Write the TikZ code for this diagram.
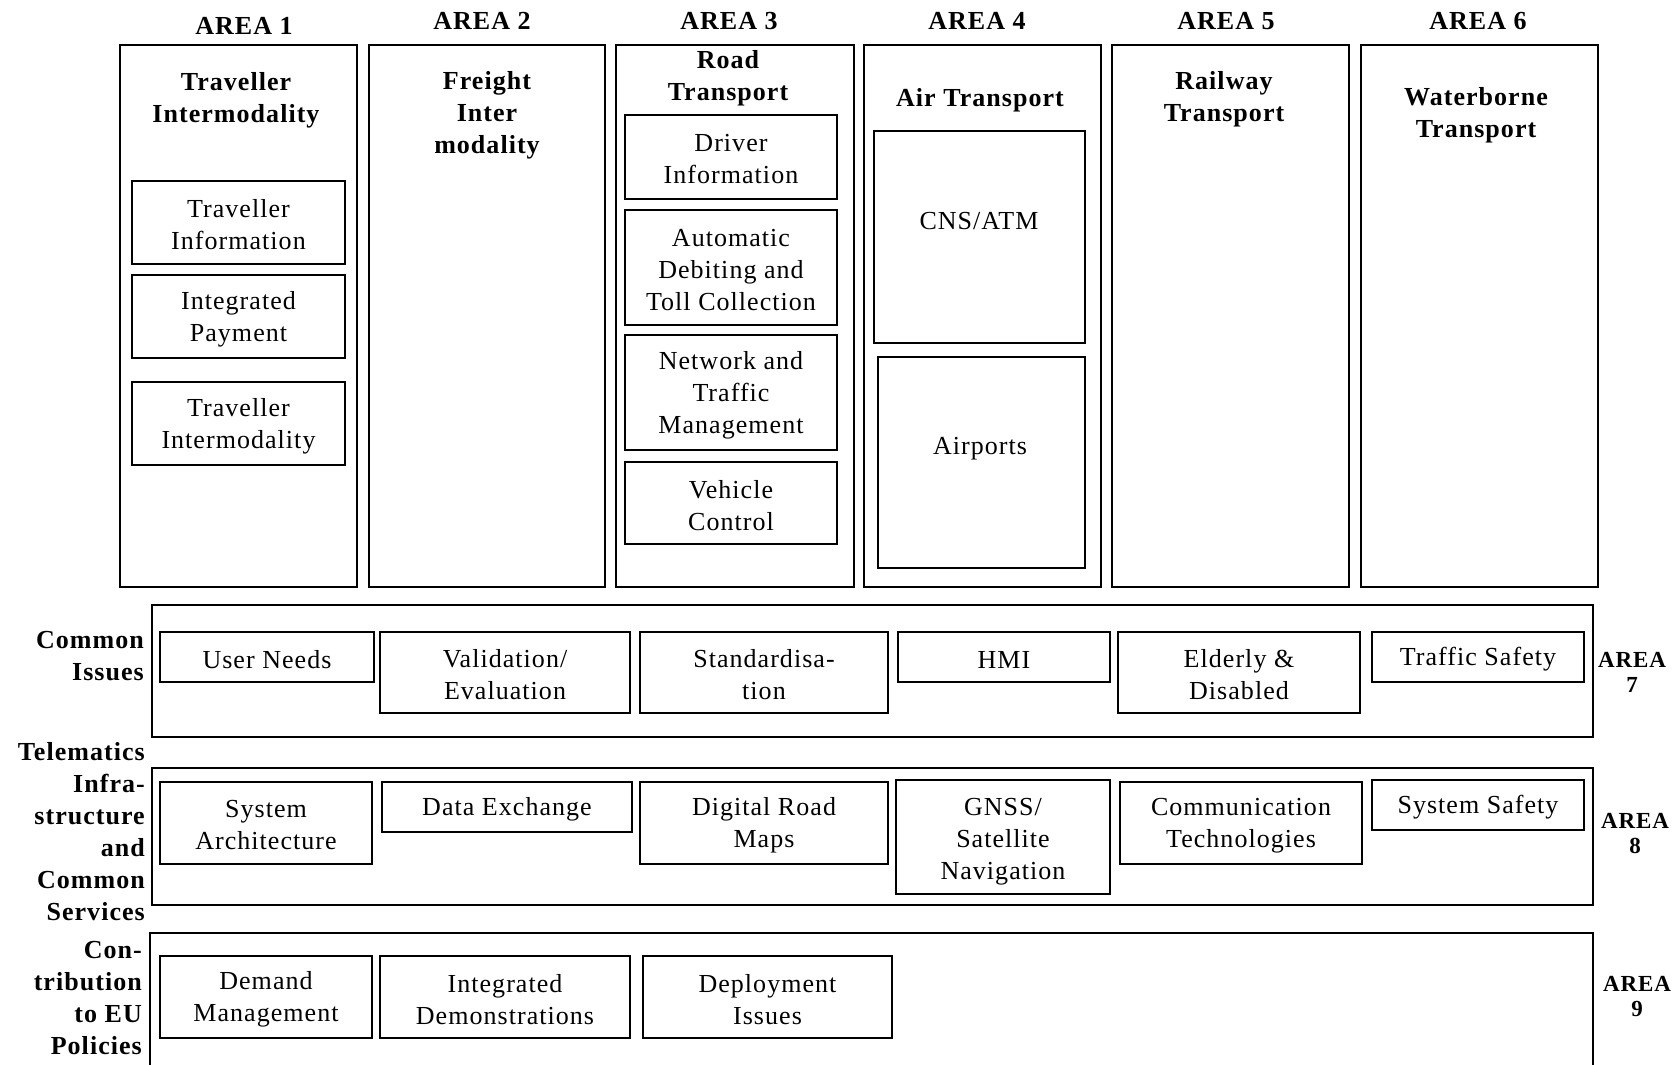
\documentclass[tikz,border=0pt]{standalone}
\usepackage{fontspec}
\setmainfont{Liberation Serif}[LetterSpace=4]
% \bx[style]{name}{x1}{y1}{x2}{y2}{text}
\newcommand\bx[7][inbox]{%
  \pgfmathsetmacro\bxw{#5-#3}\pgfmathsetmacro\bxh{#6-#4}%
  \pgfmathsetmacro\bxcx{(#3+#5)/2}\pgfmathsetmacro\bxcy{(#4+#6)/2}%
  \node[#1, minimum width=\bxw pt, minimum height=\bxh pt] (#2) at (\bxcx,\bxcy) {};
  \node[txt] (#2-t) at ([yshift=-2.5pt]#2.center) {#7};}
\begin{document}
\begin{tikzpicture}[x=1pt,y=-1pt,
  txt/.style={font=\fontsize{26}{32}\selectfont, align=center, inner sep=0pt},
  bold/.style={font=\fontsize{26}{32}\selectfont\bfseries, align=center, inner sep=0pt},
  sidelab/.style={font=\fontsize{26}{32}\selectfont\bfseries, align=right, inner sep=0pt, anchor=east},
  arealab/.style={font=\fontsize{23}{25}\selectfont\bfseries, align=center, inner sep=0pt},
  frame/.style={draw, line width=1.6pt, inner sep=0pt},
  inbox/.style={draw, line width=1.6pt, inner sep=0pt},
]
\clip (0,0) rectangle (1673,1065);
\fill[white] (0,0) rectangle (1673,1065);

% area labels
\node[bold] (a1) at (244,26) {AREA 1};
\node[bold] (a2) at (482,21) {AREA 2};
\node[bold] (a3) at (729,21) {AREA 3};
\node[bold] (a4) at (977,21) {AREA 4};
\node[bold] (a5) at (1226,21) {AREA 5};
\node[bold] (a6) at (1478,21) {AREA 6};

% columns
\bx[frame]{c1}{120}{45}{357}{587}{}
\bx[frame]{c2}{369}{45}{605}{587}{}
\bx[frame]{c3}{616}{45}{854}{587}{}
\bx[frame]{c4}{864}{45}{1101}{587}{}
\bx[frame]{c5}{1112}{45}{1349}{587}{}
\bx[frame]{c6}{1361}{45}{1598}{587}{}

% column titles
\node[bold] (t1) at (236,100) {Traveller\\Intermodality};
\node[bold] (t2) at (487,115.5) {Freight\\Inter\\modality};
\node[bold] (t3) at (728,78.5) {Road\\Transport};
\node[bold] (t4) at (980,100.5) {Air Transport};
\node[bold] (t5) at (1224,99.5) {Railway\\Transport};
\node[bold] (t6) at (1476,115.5) {Waterborne\\Transport};

% column 1 boxes
\bx{ti}{132}{181}{345}{264}{Traveller\\Information}
\bx{ip}{132}{275}{345}{358}{Integrated\\Payment}
\bx{tim}{132}{382}{345}{465}{Traveller\\Intermodality}

% column 3 boxes
\bx{di}{625}{115}{837}{199}{Driver\\Information}
\bx{adt}{625}{210}{837}{325}{Automatic\\Debiting and\\Toll Collection}
\bx{ntm}{625}{335}{837}{450}{Network and\\Traffic\\Management}
\bx{vc}{625}{462}{837}{544}{Vehicle\\Control}

% column 4 boxes
\bx[frame]{cns}{874}{131}{1085}{343}{}
\bx[frame]{air}{878}{357}{1085}{568}{}
\node[txt] (cnst) at (979,221) {CNS/ATM};
\node[txt] (airt) at (980,449) {Airports};

% row 7
\bx[frame]{r7}{152}{605}{1593}{737}{}
\bx{un}{160}{632}{374}{682}{User Needs}
\bx{ve}{380}{632}{630}{713}{Validation/\\Evaluation}
\bx{st}{640}{632}{888}{713}{Standardisa-\\tion}
\bx{hmi}{898}{632}{1110}{682}{HMI}
\bx{ed}{1118}{632}{1360}{713}{Elderly \&\\Disabled}
\bx{ts}{1372}{632}{1584}{682}{Traffic Safety}

% row 8
\bx[frame]{r8}{152}{768}{1593}{905}{}
\bx{sa}{160}{782}{372}{864}{System\\Architecture}
\bx{de}{382}{782}{632}{832}{Data Exchange}
\bx{drm}{640}{782}{888}{864}{Digital Road\\Maps}
\bx[frame]{gnss}{896}{780}{1110}{894}{}
\node[txt] (gnss-t) at (1003,842) {GNSS/\\Satellite\\Navigation};
\bx{ct}{1120}{782}{1362}{864}{Communication\\Technologies}
\bx{ss}{1372}{780}{1584}{830}{System Safety}

% row 9
\bx[frame]{r9}{150}{933}{1593}{1090}{}
\bx{dm}{160}{956}{372}{1038}{Demand\\Management}
\bx{idm}{380}{956}{630}{1038}{Integrated\\Demonstrations}
\bx{dpi}{643}{956}{892}{1038}{Deployment\\Issues}

% side labels
\node[sidelab] (l7) at (144,656) {Common\\Issues};
\node[sidelab] (l8) at (145,832) {Telematics\\Infra-\\structure\\and\\Common\\Services};
\node[sidelab] (l9) at (142,998) {Con-\\tribution\\to EU\\Policies};

\node[arealab] (a7) at (1632,672) {AREA\\7};
\node[arealab] (a8) at (1635,834) {AREA\\8};
\node[arealab] (a9) at (1637,997) {AREA\\9};
\end{tikzpicture}
\end{document}
